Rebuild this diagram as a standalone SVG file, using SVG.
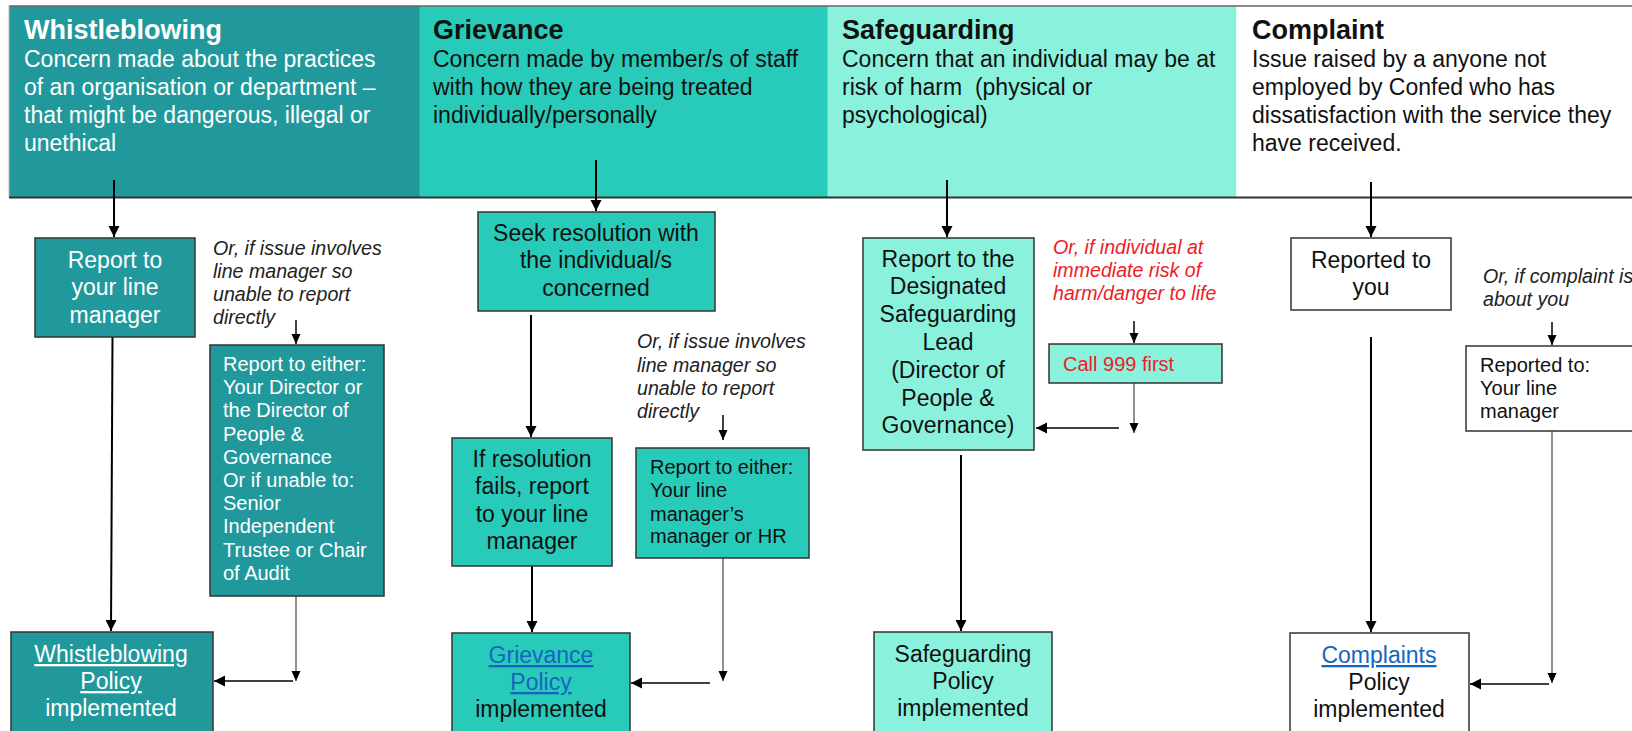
<svg xmlns="http://www.w3.org/2000/svg" width="1632" height="731" viewBox="0 0 1632 731">
<style>
text{font-family:"Liberation Sans",Arial,sans-serif}
.hdr-t{font-size:27px;font-weight:bold}
.hdr-d{font-size:23px}
.box{stroke:#333;stroke-width:1.5}
.wb{fill:#21999c}
.gr{fill:#28cbb9}
.sg{fill:#8af2dc}
.wh{fill:#ffffff}
.big{font-size:23px;text-anchor:middle}
.sm{font-size:20px}
.it{font-size:19.6px;font-style:italic;fill:#222}
.red{fill:#ee1c25}
.w{fill:#ffffff}
.k{fill:#111111}
.lnk{fill:#1565c0;text-decoration:underline}
.ul{text-decoration:underline}
.main{stroke:#000;stroke-width:2;fill:none}
.small{stroke:#000;stroke-width:1.5;fill:none}
.thin{stroke:#555;stroke-width:1.3;fill:none}
</style>
<defs>
<marker id="ah" markerUnits="userSpaceOnUse" markerWidth="12" markerHeight="12" refX="11" refY="6" orient="auto" viewBox="0 0 12 12">
<path d="M0,0.5 L11,6 L0,11.5 z" fill="#000"/>
</marker>
<marker id="ahs" markerUnits="userSpaceOnUse" markerWidth="10" markerHeight="10" refX="10" refY="5" orient="auto" viewBox="0 0 10 10">
<path d="M0,0.5 L10,5 L0,9.5 z" fill="#000"/>
</marker>
</defs>

<g id="header">
<rect x="9" y="6" width="411" height="191" class="wb"/>
<rect x="419.5" y="6" width="408.5" height="191" class="gr"/>
<rect x="827.5" y="6" width="409" height="191" class="sg"/>
<rect x="1236.5" y="6" width="396" height="191" fill="#fff"/>
<line x1="9" y1="6" x2="1632" y2="6" stroke="#666" stroke-width="1.5"/>
<line x1="9" y1="6" x2="9" y2="197" stroke="#bbb" stroke-width="1"/>
<line x1="9" y1="197.5" x2="1632" y2="197.5" stroke="#333" stroke-width="2"/>
</g>

<g id="hdr-whistleblowing">
<text x="24" y="39" class="hdr-t w">Whistleblowing</text>
<text class="hdr-d w"><tspan x="24" y="67">Concern made about the practices</tspan><tspan x="24" y="95">of an organisation or department –</tspan><tspan x="24" y="123">that might be dangerous, illegal or</tspan><tspan x="24" y="151">unethical</tspan></text>
</g>
<g id="hdr-grievance">
<text x="433" y="39" class="hdr-t k">Grievance</text>
<text class="hdr-d k"><tspan x="433" y="67">Concern made by member/s of staff</tspan><tspan x="433" y="95">with how they are being treated</tspan><tspan x="433" y="123">individually/personally</tspan></text>
</g>
<g id="hdr-safeguarding">
<text x="842" y="39" class="hdr-t k">Safeguarding</text>
<text class="hdr-d k" style="white-space:pre"><tspan x="842" y="67">Concern that an individual may be at</tspan><tspan x="842" y="95">risk of harm  (physical or</tspan><tspan x="842" y="123">psychological)</tspan></text>
</g>
<g id="hdr-complaint">
<text x="1252" y="39" class="hdr-t k">Complaint</text>
<text class="hdr-d k"><tspan x="1252" y="67">Issue raised by a anyone not</tspan><tspan x="1252" y="95">employed by Confed who has</tspan><tspan x="1252" y="123">dissatisfaction with the service they</tspan><tspan x="1252" y="151">have received.</tspan></text>
</g>

<g id="connectors">
<line x1="114" y1="180" x2="114" y2="237" class="main" marker-end="url(#ah)"/>
<line x1="112.5" y1="337" x2="111" y2="631" class="main" marker-end="url(#ah)"/>
<line x1="296" y1="320" x2="296" y2="344" class="small" marker-end="url(#ahs)"/>
<line x1="296" y1="596" x2="296" y2="681" class="thin" marker-end="url(#ahs)"/>
<line x1="293" y1="681" x2="214" y2="681" class="small" marker-end="url(#ah)"/>

<line x1="596" y1="160" x2="596" y2="211" class="main" marker-end="url(#ah)"/>
<line x1="531" y1="315" x2="531" y2="437" class="main" marker-end="url(#ah)"/>
<line x1="723" y1="415" x2="723" y2="440" class="small" marker-end="url(#ahs)"/>
<line x1="723" y1="558" x2="723" y2="681" class="thin" marker-end="url(#ahs)"/>
<line x1="710" y1="683" x2="631" y2="683" class="small" marker-end="url(#ah)"/>
<line x1="532" y1="566" x2="532" y2="632" class="main" marker-end="url(#ah)"/>

<line x1="947" y1="180" x2="947" y2="237" class="main" marker-end="url(#ah)"/>
<line x1="1134" y1="321" x2="1134" y2="343" class="small" marker-end="url(#ahs)"/>
<line x1="1134" y1="383" x2="1134" y2="433" class="thin" marker-end="url(#ahs)"/>
<line x1="1119" y1="428" x2="1036" y2="428" class="small" marker-end="url(#ah)"/>
<line x1="961" y1="455" x2="961" y2="631" class="main" marker-end="url(#ah)"/>

<line x1="1371" y1="182" x2="1371" y2="237" class="main" marker-end="url(#ah)"/>
<line x1="1371" y1="337" x2="1371" y2="632" class="main" marker-end="url(#ah)"/>
<line x1="1552" y1="322" x2="1552" y2="345" class="small" marker-end="url(#ahs)"/>
<line x1="1552" y1="431" x2="1552" y2="683" class="thin" marker-end="url(#ahs)"/>
<line x1="1549" y1="684" x2="1470" y2="684" class="small" marker-end="url(#ah)"/>
</g>

<g id="wb-report">
<rect x="35" y="238" width="160" height="99" class="box wb"/>
<text class="big w"><tspan x="115" y="268">Report to</tspan><tspan x="115" y="295">your line</tspan><tspan x="115" y="323">manager</tspan></text>
</g>
<g id="wb-alt-label">
<text class="it"><tspan x="213" y="255">Or, if issue involves</tspan><tspan x="213" y="278">line manager so</tspan><tspan x="213" y="301">unable to report</tspan><tspan x="213" y="324">directly</tspan></text>
</g>
<g id="wb-either">
<rect x="210" y="345" width="174" height="251" class="box wb"/>
<text class="sm w"><tspan x="223" y="371">Report to either:</tspan><tspan x="223" y="394">Your Director or</tspan><tspan x="223" y="417">the Director of</tspan><tspan x="223" y="441">People &amp;</tspan><tspan x="223" y="464">Governance</tspan><tspan x="223" y="487">Or if unable to:</tspan><tspan x="223" y="510">Senior</tspan><tspan x="223" y="533">Independent</tspan><tspan x="223" y="557">Trustee or Chair</tspan><tspan x="223" y="580">of Audit</tspan></text>
</g>
<g id="wb-policy">
<rect x="11" y="632" width="202" height="110" class="box wb"/>
<text class="big w"><tspan x="111" y="662" class="ul">Whistleblowing</tspan><tspan x="111" y="689" class="ul">Policy</tspan><tspan x="111" y="716">implemented</tspan></text>
</g>

<g id="gr-seek">
<rect x="478" y="212" width="237" height="99" class="box gr"/>
<text class="big k"><tspan x="596" y="241">Seek resolution with</tspan><tspan x="596" y="268">the individual/s</tspan><tspan x="596" y="296">concerned</tspan></text>
</g>
<g id="gr-alt-label">
<text class="it"><tspan x="637" y="348">Or, if issue involves</tspan><tspan x="637" y="372">line manager so</tspan><tspan x="637" y="395">unable to report</tspan><tspan x="637" y="418">directly</tspan></text>
</g>
<g id="gr-fails">
<rect x="452" y="438" width="160" height="128" class="box gr"/>
<text class="big k"><tspan x="532" y="467">If resolution</tspan><tspan x="532" y="494">fails, report</tspan><tspan x="532" y="522">to your line</tspan><tspan x="532" y="549">manager</tspan></text>
</g>
<g id="gr-either">
<rect x="636" y="448" width="173" height="110" class="box gr"/>
<text class="sm k"><tspan x="650" y="474">Report to either:</tspan><tspan x="650" y="497">Your line</tspan><tspan x="650" y="521">manager’s</tspan><tspan x="650" y="543">manager or HR</tspan></text>
</g>
<g id="gr-policy">
<rect x="452" y="633" width="178" height="110" class="box gr"/>
<text class="big"><tspan x="541" y="663" class="lnk">Grievance</tspan><tspan x="541" y="690" class="lnk">Policy</tspan><tspan x="541" y="717" class="k">implemented</tspan></text>
</g>

<g id="sg-report">
<rect x="863" y="238" width="171" height="212" class="box sg"/>
<text class="big k"><tspan x="948" y="267">Report to the</tspan><tspan x="948" y="294">Designated</tspan><tspan x="948" y="322">Safeguarding</tspan><tspan x="948" y="350">Lead</tspan><tspan x="948" y="378">(Director of</tspan><tspan x="948" y="406">People &amp;</tspan><tspan x="948" y="433">Governance)</tspan></text>
</g>
<g id="sg-alt-label">
<text class="it red"><tspan x="1053" y="254">Or, if individual at</tspan><tspan x="1053" y="277">immediate risk of</tspan><tspan x="1053" y="300">harm/danger to life</tspan></text>
</g>
<g id="sg-call">
<rect x="1049" y="344" width="173" height="39" class="box sg"/>
<text x="1063" y="371" class="sm red">Call 999 first</text>
</g>
<g id="sg-policy">
<rect x="874" y="632" width="178" height="110" class="box sg"/>
<text class="big k"><tspan x="963" y="662">Safeguarding</tspan><tspan x="963" y="689">Policy</tspan><tspan x="963" y="716">implemented</tspan></text>
</g>

<g id="cp-report">
<rect x="1291" y="238" width="160" height="72" class="box wh"/>
<text class="big k"><tspan x="1371" y="268">Reported to</tspan><tspan x="1371" y="295">you</tspan></text>
</g>
<g id="cp-alt-label">
<text class="it"><tspan x="1483" y="283">Or, if complaint is</tspan><tspan x="1483" y="306">about you</tspan></text>
</g>
<g id="cp-line">
<rect x="1466" y="346" width="180" height="85" class="box wh"/>
<text class="sm k"><tspan x="1480" y="372">Reported to:</tspan><tspan x="1480" y="395">Your line</tspan><tspan x="1480" y="418">manager</tspan></text>
</g>
<g id="cp-policy">
<rect x="1290" y="633" width="179" height="110" class="box wh"/>
<text class="big"><tspan x="1379" y="663" class="lnk">Complaints</tspan><tspan x="1379" y="690" class="k">Policy</tspan><tspan x="1379" y="717" class="k">implemented</tspan></text>
</g>
</svg>
